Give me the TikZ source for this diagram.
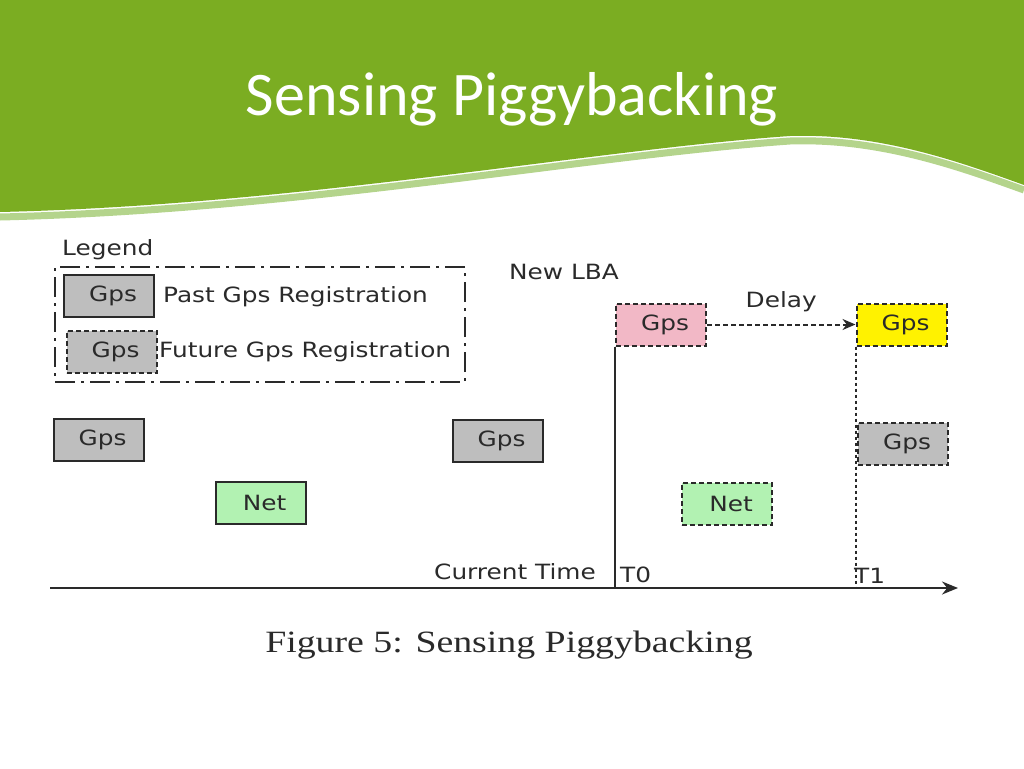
\documentclass[tikz,border=0pt]{standalone}
\usepackage{fontspec}
\setmainfont{DejaVu Sans}
\newfontfamily\figfont[FakeStretch=1.18]{DejaVu Sans}
\newfontfamily\titlefont{Carlito}
\newfontfamily\capfont[FakeStretch=1.22]{Liberation Serif}
\usetikzlibrary{arrows.meta}
\definecolor{slidegreen}{HTML}{7BAD22}
\definecolor{stripegreen}{HTML}{B4D48C}
\definecolor{boxgray}{HTML}{BEBEBE}
\definecolor{netgreen}{HTML}{B2F2B2}
\definecolor{lbapink}{HTML}{F2B8C6}
\definecolor{inkgray}{HTML}{2A2A2A}
\tikzset{
  fig/.style={font=\figfont\fontsize{21}{24}\selectfont, text=inkgray, inner sep=0pt},
  reg/.style={fig, draw=inkgray, line width=2pt, minimum width=90pt, minimum height=42pt},
  past/.style={reg, fill=boxgray},
  future/.style={reg, dash pattern=on 5pt off 3pt, fill=boxgray},
}
\begin{document}
\begin{tikzpicture}[x=1pt,y=-1pt]
        \useasboundingbox (0,0) rectangle (1024,768);
        % title band
        \draw[stripegreen, line width=7pt] (0,217) .. controls (300,210) and (590,155) .. (790,141) .. controls (880,138) and (960,167) .. (1024,190);
        \fill[slidegreen] (0,0) -- (1024,0) -- (1024,185) .. controls (960,162) and (880,133) .. (790,136) .. controls (590,150) and (300,205) .. (0,212) -- cycle;
        \node[font=\titlefont\fontsize{62}{66}\selectfont, text=white] (title) at (512,99) {Sensing Piggybacking};
        % legend
        \node[fig, anchor=west] (legend) at (62,250) {Legend};
        \node[draw=inkgray, line width=2pt, dash pattern=on 20pt off 6pt on 3pt off 6pt, minimum width=410pt, minimum height=115pt] (legendbox) at (260,324.5) {};
        \node[past] (pastkey) at (109,296) {\hspace{8pt}Gps};
        \node[fig, anchor=west] (pastlbl) at (163,297) {Past Gps Registration};
        \node[future] (futurekey) at (111.5,352) {\hspace{8pt}Gps};
        \node[fig, anchor=west] (futurelbl) at (159,352) {Future Gps Registration};
        % registrations before T0
        \node[past] (gpsA) at (98.5,440) {\hspace{8pt}Gps};
        \node[past, fill=netgreen] (netA) at (260.5,502.5) {\hspace{8pt}Net};
        \node[past] (gpsB) at (497.5,441) {\hspace{8pt}Gps};
        % registrations after T0
        \node[future, fill=lbapink] (gpsNew) at (661,324.5) {\hspace{8pt}Gps};
        \node[future, fill=yellow] (gpsDelay) at (901.5,324.5) {\hspace{8pt}Gps};
        \node[future] (gpsT1) at (903,443.5) {\hspace{8pt}Gps};
        \node[future, fill=netgreen] (netB) at (727,504) {\hspace{8pt}Net};
        \node[fig] (newlba) at (564,272) {New LBA};
        \draw[inkgray, line width=2pt, dash pattern=on 5pt off 3pt, -{Stealth[length=13pt,width=11pt]}] (gpsNew) -- node[fig, above=12pt] (delay) {Delay} (gpsDelay);
        % time axis
        \coordinate (axisL) at (50,588);
        \coordinate (axisR) at (958,588);
        \draw[inkgray, line width=2pt, -{Stealth[length=16pt,width=13pt]}] (axisL) -- (axisR);
        \draw[inkgray, line width=2pt] (gpsNew.south west) -- (gpsNew.south west |- axisL);
        \draw[inkgray, line width=2pt, dash pattern=on 3pt off 3pt] (gpsDelay.south west) -- (gpsDelay.south west |- axisL);
        \node[fig] (now) at (515,572) {Current Time};
        \node[fig, anchor=west] (tzero) at (620,575) {T0};
        \node[fig, anchor=west] (tone) at (854,576) {T1};
        % caption
        \node[font=\capfont\fontsize{31}{34}\selectfont, text=inkgray] (caption) at (509,645) {Figure 5: Sensing Piggybacking};
\end{tikzpicture}
\end{document}
